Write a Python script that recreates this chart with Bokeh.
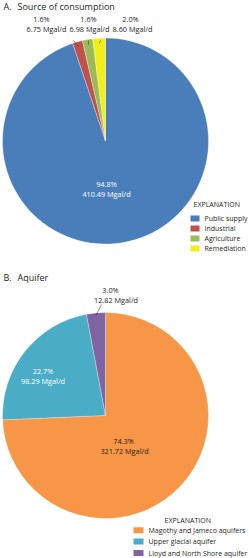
import numpy as np
from bokeh.plotting import figure
from bokeh.models import Range1d, ColumnDataSource
from bokeh.core.properties import value
from bokeh.embed import file_html
from bokeh.resources import INLINE

# ---------------- data ----------------
a_categories = ["Public supply", "Industrial", "Agriculture", "Remediation"]
a_values = [410.49, 6.75, 6.98, 8.60]
a_percent = ["94.8%", "1.6%", "1.6%", "2.0%"]
a_colors = ["#4A7EBB", "#C0504D", "#9BBB59", "#F2EE1A"]

b_categories = ["Magothy and Jameco aquifers", "Upper glacial aquifer", "Lloyd and North Shore aquifer"]
b_values = [321.72, 98.29, 12.82]
b_percent = ["74.3%", "22.7%", "3.0%"]
b_colors = ["#F79646", "#4BACC6", "#8064A2"]

W, H = 249, 558
FONT = "Open Sans"
DARK = "#231F20"
FS = "7.3px"      # pie labels
LFS = "7px"       # legend
TFS = "9px"       # panel titles


def Y(py):
    return H - py


p = figure(width=W, height=H, x_range=Range1d(0, W), y_range=Range1d(0, H),
           output_backend="svg", toolbar_location=None, min_border=0)
p.axis.visible = False
p.grid.visible = False
p.outline_line_color = None
p.background_fill_color = "white"


def draw_pie(values, colors, cx, cy, R):
    vals = np.array(values, dtype=float)
    frac = vals / vals.sum()
    cum = np.concatenate([[0.0], np.cumsum(frac)])
    # clockwise from 12 o'clock
    starts = np.pi / 2 - 2 * np.pi * cum[1:]
    ends = np.pi / 2 - 2 * np.pi * cum[:-1]
    src = ColumnDataSource(dict(x=[cx] * len(vals), y=[Y(cy)] * len(vals),
                                s=starts, e=ends, c=colors))
    p.wedge(x="x", y="y", radius=R, start_angle="s", end_angle="e",
            direction="anticlock", fill_color="c", line_color="white",
            line_width=0.3, source=src)
    mids = np.pi / 2 - 2 * np.pi * (cum[:-1] + cum[1:]) / 2
    return mids


def label(x, y, txt, color=DARK, size=FS, align="center"):
    p.text(x=[x], y=[Y(y)], text=[txt], text_font=value(FONT),
           text_font_size=size, text_color=color, text_align=align,
           text_baseline="middle")


def legend(title_x, title_y, box_x, label_x, row_y0, row_dy, cats, cols, bw, bh):
    label(title_x, title_y, "EXPLANATION", size=LFS, align="left")
    ys = [Y(row_y0 + i * row_dy) for i in range(len(cats))]
    p.rect(x=[box_x + bw / 2] * len(cats), y=ys, width=bw, height=bh,
           fill_color=cols, line_color=None)
    p.text(x=[label_x] * len(cats), y=ys, text=cats, text_font=value(FONT),
           text_font_size=LFS, text_color=DARK, text_align="left",
           text_baseline="middle")


def fmt(v):
    return "%.2f Mgal/d" % v


# ---------------- panel A ----------------
label(3, 6, "A.", size=TFS, align="left")
label(17, 6, "Source of consumption", size=TFS, align="left")
acx, acy, aR = 105, 140.5, 103
amids = draw_pie(a_values, a_colors, acx, acy, aR)

# inside label for public supply
label(106, 183, a_percent[0], color="white")
label(106, 193, fmt(a_values[0]), color="white")

# outside labels with leaders
a_pct_x = [None, 41, 88, 130]
a_val_x = [None, 46, 89, 132]
a_lead_start = [None, (73, 40), (88, 40), (100, 40)]
for i in range(1, 4):
    label(a_pct_x[i], 18, a_percent[i])
    label(a_val_x[i], 28, fmt(a_values[i]))
    sx, sy = a_lead_start[i]
    ex = acx + 0.95 * aR * np.cos(amids[i])
    ey = acy - 0.95 * aR * np.sin(amids[i])
    p.line(x=[sx, ex], y=[Y(sy), Y(ey)], line_color=DARK, line_width=0.5)

legend(193, 204, 190, 204, 218, 10, a_categories, a_colors, 9, 6)

# ---------------- panel B ----------------
label(3, 277, "B.", size=TFS, align="left")
label(17, 277, "Aquifer", size=TFS, align="left")
bcx, bcy, bR = 105, 415, 103
bmids = draw_pie(b_values, b_colors, bcx, bcy, bR)

label(123, 440, b_percent[0])
label(124, 450, fmt(b_values[0]))
label(42.5, 370, b_percent[1], color="white")
label(42.5, 380, fmt(b_values[1]), color="white")
label(110, 289.5, b_percent[2])
label(115.5, 299.5, fmt(b_values[2]))
ex = bcx + 0.98 * bR * np.cos(bmids[2])
ey = bcy - 0.98 * bR * np.sin(bmids[2])
p.line(x=[101, ex], y=[Y(304), Y(ey)], line_color=DARK, line_width=0.5)

legend(164, 519.7, 133, 148, 529.7, 11.4, b_categories, b_colors, 10, 6)

open("out.html", "w").write(file_html(p, INLINE))
